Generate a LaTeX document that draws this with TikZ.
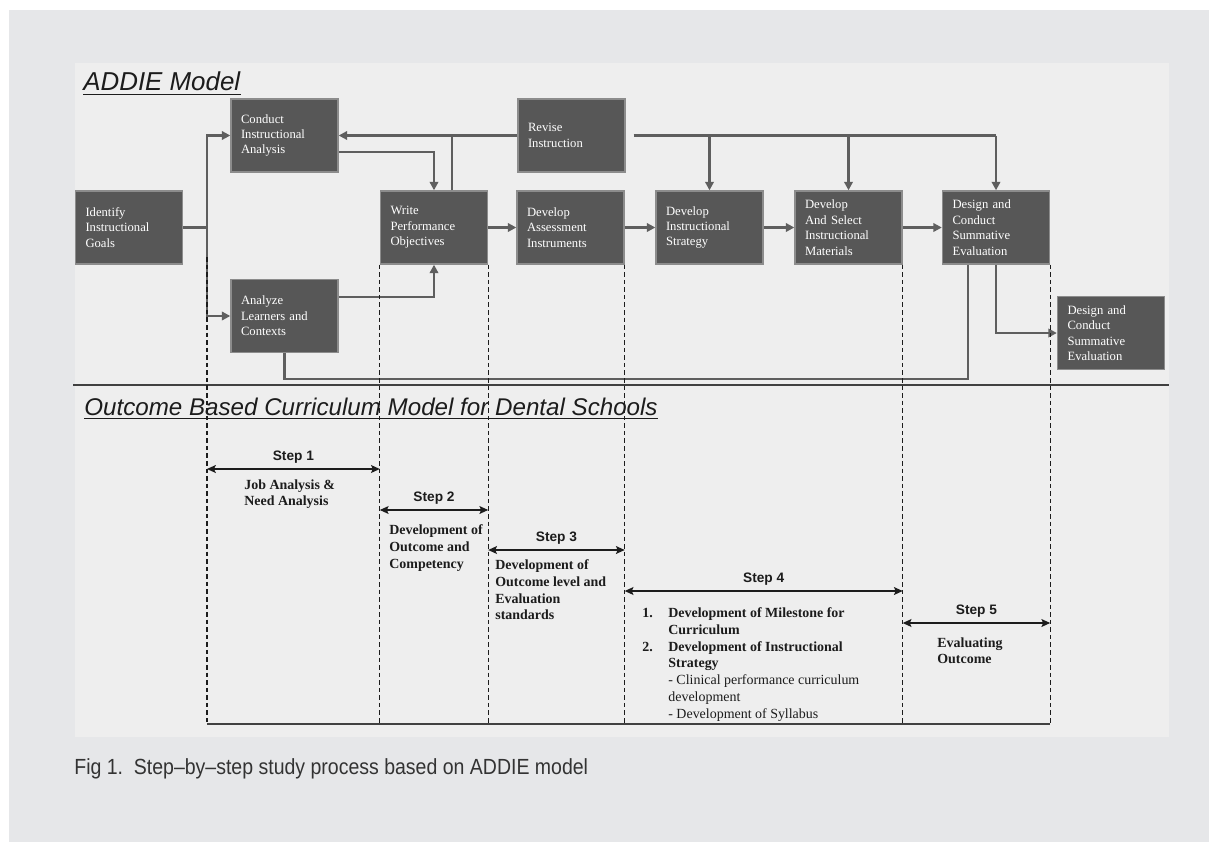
\documentclass[tikz,border=0pt]{standalone}
\usepackage{fontspec}
\setmainfont{Liberation Serif}
\setsansfont{Liberation Sans}
\newfontfamily\capfont[FakeStretch=0.89]{Liberation Sans}
\usepackage{tikz}
\usetikzlibrary{arrows,arrows.meta}

\definecolor{pagegray}{HTML}{E6E7E9}
\definecolor{panelgray}{HTML}{EEEEEE}
\definecolor{boxfill}{HTML}{575757}
\definecolor{boxline}{HTML}{8C8C8C}
\definecolor{linkgray}{HTML}{5E5E5E}
\definecolor{inkgray}{HTML}{1C1C1C}
\definecolor{capgray}{HTML}{333333}

\begin{document}
\begin{tikzpicture}[x=0.02cm,y=-0.02cm,->,>={Triangle[length=4.8pt,width=4.8pt]},
    addie node/.style={rectangle,draw=boxline,line width=0.8pt,fill=boxfill,text=white,
      font=\fontsize{7.2}{8.8}\selectfont,minimum height=1.46cm,text width=1.74cm,
      inner xsep=0.2cm,inner ysep=1pt,align=left},
    link/.style={linkgray,line width=1.4pt},
    guide/.style={-,inkgray,line width=0.65pt,dash pattern=on 2.6pt off 1.7pt},
    span/.style={{Stealth[length=5pt,width=4.5pt,inset=1pt]}-{Stealth[length=5pt,width=4.5pt,inset=1pt]},
      inkgray,line width=0.75pt},
    step label/.style={font=\sffamily\bfseries\fontsize{7.8}{9}\selectfont,text=inkgray,
      inner sep=0pt,above=0.1cm},
    step text/.style={font=\bfseries\fontsize{7.94}{9.64}\selectfont,text=inkgray,
      align=left,inner sep=0pt,anchor=north west},
    model title/.style={font=\sffamily\itshape\fontsize{14.74}{17}\selectfont,text=inkgray,
      inner sep=0pt,anchor=base west}]
\useasboundingbox (0,0) rectangle (1209,842);
\fill[white] (0,0) rectangle (1209,842);
\fill[pagegray] (9,10) rectangle (1209,842);
\fill[panelgray] (75,63) rectangle (1169,737);

\node[model title] (t1) at (83,90.7) {ADDIE Model};
\node[model title,font=\sffamily\itshape\fontsize{13.75}{16}\selectfont] (t2) at (84,415)
  {Outcome Based Curriculum Model for Dental Schools};
\draw[-,inkgray,line width=0.7pt] ([yshift=-0.08cm]t1.base west) -- ([yshift=-0.08cm]t1.base east);
\draw[-,inkgray,line width=0.7pt] ([yshift=-0.07cm]t2.base west) -- ([yshift=-0.07cm]t2.base east);

\node[addie node] (1) at (129,227.5) {Identify\\Instructional\\Goals};
\node[addie node] (2) at (284.5,135.5) {Conduct\\Instructional\\Analysis};
\node[addie node] (3) at (284.5,316) {Analyze\\Learners and\\Contexts};
\node[addie node] (4) at (434,227.5) {Write\\Performance\\Objectives};
\node[addie node] (5) at (571.5,135.5) {Revise\\Instruction};
\node[addie node] (6) at (570.5,227.5) {Develop\\Assessment\\Instruments};
\node[addie node] (7) at (709.5,227.5) {Develop\\Instructional\\Strategy};
\node[addie node] (8) at (848.5,227.5) {Develop\\And Select\\Instructional\\Materials};
\node[addie node] (9) at (996,227.5) {Design and\\Conduct\\Summative\\Evaluation};
\node[addie node] (10) at (1111,333) {Design and\\Conduct\\Summative\\Evaluation};

\coordinate (b) at (207,227.5);
\draw[link,-] (1) -- (b);
\draw[link] (b) |- (2);
\draw[link] (b) |- (3);
\draw[link] ([yshift=-0.33cm]2.east) -| (4);
\draw[link] ([yshift=0.38cm]3.east) -| (4);
\draw[link] (5) -- (2);
\coordinate (f) at ([xshift=0.36cm]4.north);
\draw[link,-] (f) -- (f |- 5.west);
\draw[link,-] ([xshift=0.16cm]5.east) -- (5 -| 9);
\foreach \n in {7,8,9}
  \draw[link] (5 -| \n) -- (\n);
\foreach \a/\b in {4/6,6/7,7/8,8/9}
  \draw[link] (\a) -- (\b);
\draw[link,-] (3.south) -- ++(0,26) -| ([xshift=-0.56cm]9.south);
\draw[link] (9) |- (10);

\draw[-,black!75,line width=0.8pt] (73,385) -- (1169,385);

\coordinate (c0) at (207,257);
\coordinate (c1) at (4.south west);
\coordinate (c2) at (4.south east);
\coordinate (c3) at (6.south east);
\coordinate (c4) at (8.south east);
\coordinate (c5) at (9.south east);
\coordinate (base) at (0,724);
\foreach \a in {c0,c1,c2,c3,c4,c5}
  \draw[guide] (\a) -- (\a |- base);
\draw[-,black!75,line width=1pt] (c0 |- base) -- (c5 |- base);

\foreach \l/\r/\y/\s in {c0/c1/469/1,c1/c2/510/2,c2/c3/550/3,c3/c4/591/4,c4/c5/623/5}
  \draw[span] (\l |- 0,\y) -- node[midway,step label] {Step \s} (\r |- 0,\y);

\node[step text] (d1) at (244,479) {Job Analysis \&\\Need Analysis};
\node[step text] (d2) at (389,524) {Development of\\Outcome and\\Competency};
\node[step text] (d3) at (495,559) {Development of\\Outcome level and\\Evaluation\\standards};
\node[step text] (d4) at (642,607) {\makebox[0.52cm][l]{1.}Development of Milestone for\\
  \hspace*{0.52cm}Curriculum\\
  \makebox[0.52cm][l]{2.}Development of Instructional\\
  \hspace*{0.52cm}Strategy\\
  \hspace*{0.52cm}\mdseries - Clinical performance curriculum\\
  \hspace*{0.52cm}\mdseries development\\
  \hspace*{0.52cm}\mdseries - Development of Syllabus};
\node[step text] (d5) at (937,637) {Evaluating\\Outcome};

\node[anchor=base west,inner sep=0pt,text=capgray,font=\capfont\fontsize{12.47}{14}\selectfont]
  (cap) at (74,774) {Fig 1.\ \ Step–by–step study process based on ADDIE model};
\end{tikzpicture}
\end{document}
